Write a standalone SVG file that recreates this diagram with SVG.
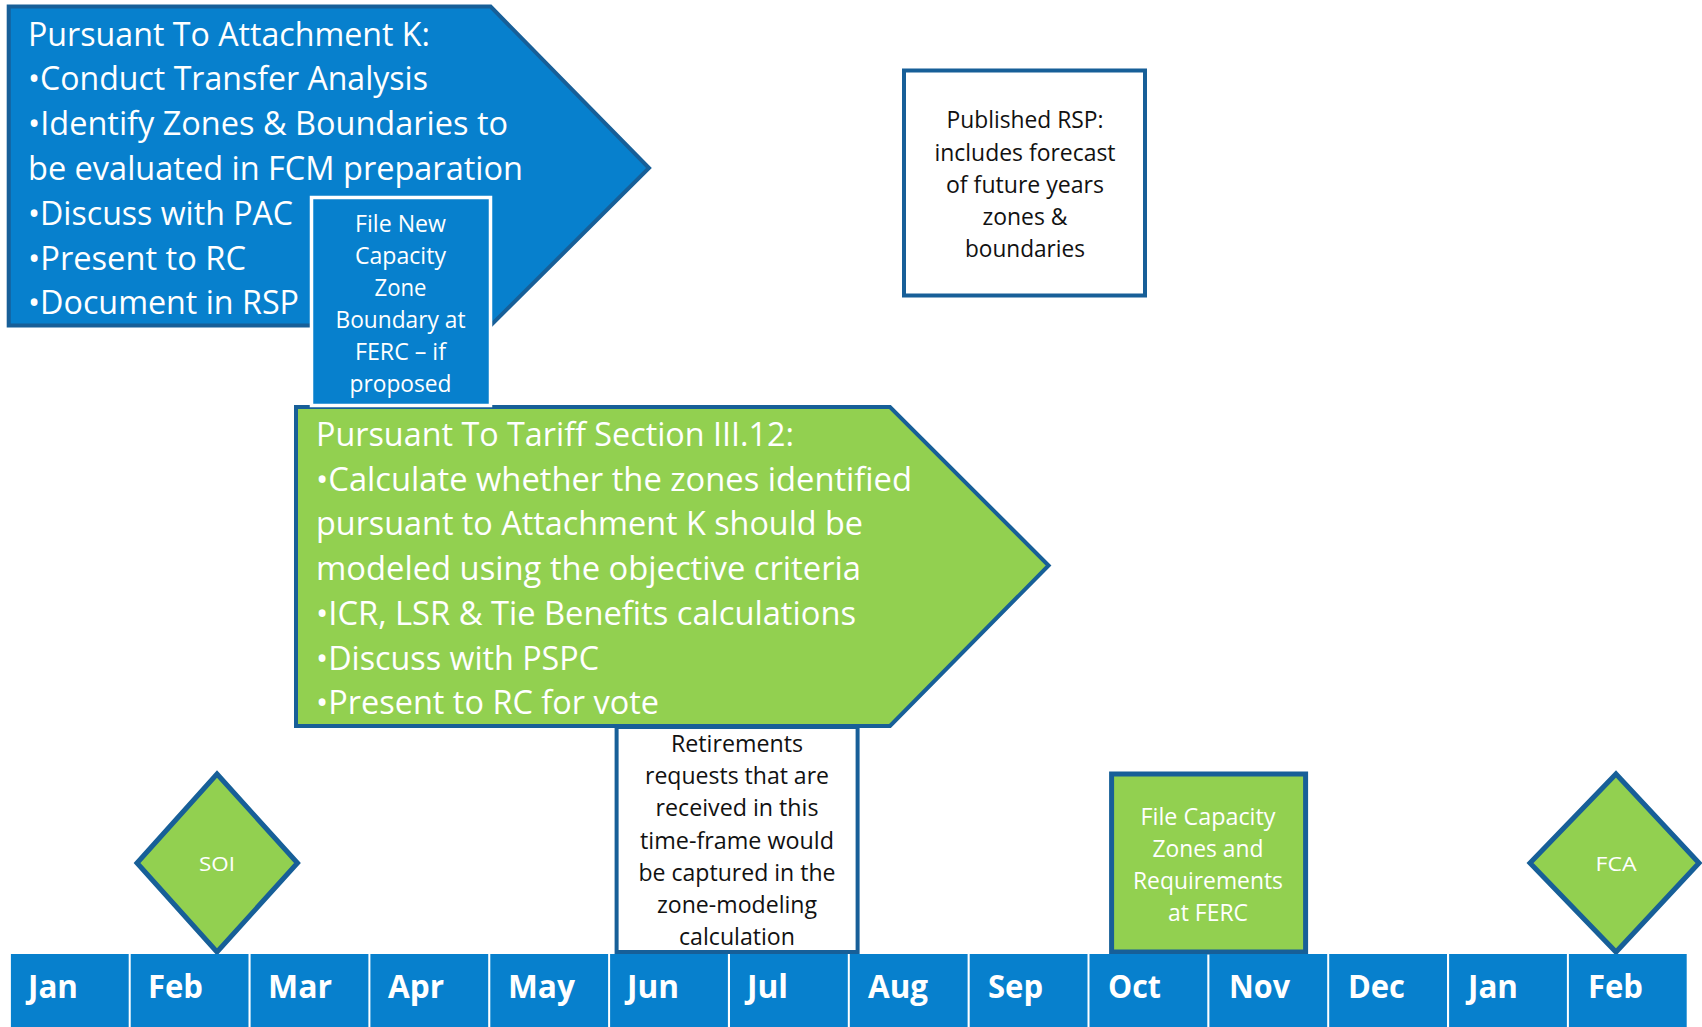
<svg xmlns="http://www.w3.org/2000/svg" width="1702" height="1027" viewBox="0 0 1702 1027">
<style>
.bg{fill:#ffffff}
.blue{fill:#0780CD;stroke:#175F98;stroke-width:4;stroke-linejoin:miter}
.green{fill:#92D050;stroke:#175F98;stroke-width:4;stroke-linejoin:miter}
.dia{fill:#92D050;stroke:#175F98;stroke-width:5;stroke-linejoin:miter}
.white{fill:#ffffff;stroke:#175F98;stroke-width:4}
.bluewb{fill:#0780CD;stroke:#ffffff;stroke-width:3.5}
.cell{fill:#0780CD}
.big{font-family:"Open Sans","Liberation Sans",sans-serif;font-size:33px;fill:#ffffff}
.mid{font-family:"Open Sans","Liberation Sans",sans-serif;font-size:23px;fill:#ffffff;text-anchor:middle}
.dark{font-family:"Open Sans","Liberation Sans",sans-serif;font-size:23px;fill:#111111;text-anchor:middle}
.sm{font-family:"Open Sans","Liberation Sans",sans-serif;font-size:20px;fill:#ffffff;text-anchor:middle}
.mon{font-family:"Open Sans","Liberation Sans",sans-serif;font-size:33px;font-weight:bold;fill:#ffffff}
</style>
<rect class="bg" x="0" y="0" width="1702" height="1027"/>

<g id="attachment-k">
<path class="blue" d="M8.7 6.5 H490.6 L649 168 L490.6 325.6 H8.7 Z"/>
<text class="big" x="28" y="45.5" textLength="402" lengthAdjust="spacingAndGlyphs">Pursuant To Attachment K:</text>
<text class="big" x="28" y="90.3" textLength="400" lengthAdjust="spacingAndGlyphs">•Conduct Transfer Analysis</text>
<text class="big" x="28" y="135.1" textLength="480" lengthAdjust="spacingAndGlyphs">•Identify Zones &amp; Boundaries to</text>
<text class="big" x="28" y="179.9" textLength="495" lengthAdjust="spacingAndGlyphs">be evaluated in FCM preparation</text>
<text class="big" x="28" y="224.7" textLength="265" lengthAdjust="spacingAndGlyphs">•Discuss with PAC</text>
<text class="big" x="28" y="269.5" textLength="218" lengthAdjust="spacingAndGlyphs">•Present to RC</text>
<text class="big" x="28" y="314.3" textLength="271" lengthAdjust="spacingAndGlyphs">•Document in RSP</text>
</g>

<g id="tariff-section">
<path class="green" d="M296 407 H890 L1048.6 565.5 L890 726 H296 Z"/>
<text class="big" x="316" y="446" textLength="478" lengthAdjust="spacingAndGlyphs">Pursuant To Tariff Section III.12:</text>
<text class="big" x="316" y="490.7" textLength="596" lengthAdjust="spacingAndGlyphs">•Calculate whether the zones identified</text>
<text class="big" x="316" y="535.4" textLength="547" lengthAdjust="spacingAndGlyphs">pursuant to Attachment K should be</text>
<text class="big" x="316" y="580.1" textLength="545" lengthAdjust="spacingAndGlyphs">modeled using the objective criteria</text>
<text class="big" x="316" y="624.8" textLength="540" lengthAdjust="spacingAndGlyphs">•ICR, LSR &amp; Tie Benefits calculations</text>
<text class="big" x="316" y="669.5" textLength="283" lengthAdjust="spacingAndGlyphs">•Discuss with PSPC</text>
<text class="big" x="316" y="714.2" textLength="343" lengthAdjust="spacingAndGlyphs">•Present to RC for vote</text>
</g>

<g id="file-new-zone">
<rect class="bluewb" x="311.5" y="197.5" width="179" height="208"/>
<text class="mid" x="400.5" y="232" textLength="91" lengthAdjust="spacingAndGlyphs">File New</text>
<text class="mid" x="400.5" y="264" textLength="91" lengthAdjust="spacingAndGlyphs">Capacity</text>
<text class="mid" x="400.5" y="296" textLength="52" lengthAdjust="spacingAndGlyphs">Zone</text>
<text class="mid" x="400.5" y="328" textLength="130" lengthAdjust="spacingAndGlyphs">Boundary at</text>
<text class="mid" x="400.5" y="360" textLength="91" lengthAdjust="spacingAndGlyphs">FERC – if</text>
<text class="mid" x="400.5" y="392" textLength="102" lengthAdjust="spacingAndGlyphs">proposed</text>
</g>

<g id="published-rsp">
<rect class="white" x="904" y="70.5" width="241" height="225"/>
<text class="dark" x="1025" y="128" textLength="157" lengthAdjust="spacingAndGlyphs">Published RSP:</text>
<text class="dark" x="1025" y="160.5" textLength="181" lengthAdjust="spacingAndGlyphs">includes forecast</text>
<text class="dark" x="1025" y="192.5" textLength="158" lengthAdjust="spacingAndGlyphs">of future years</text>
<text class="dark" x="1025" y="224.5" textLength="85" lengthAdjust="spacingAndGlyphs">zones &amp;</text>
<text class="dark" x="1025" y="256.5" textLength="120" lengthAdjust="spacingAndGlyphs">boundaries</text>
</g>

<g id="retirements">
<rect class="white" x="616.6" y="727" width="241" height="225"/>
<text class="dark" x="737" y="752" textLength="132" lengthAdjust="spacingAndGlyphs">Retirements</text>
<text class="dark" x="737" y="784" textLength="184" lengthAdjust="spacingAndGlyphs">requests that are</text>
<text class="dark" x="737" y="816" textLength="163" lengthAdjust="spacingAndGlyphs">received in this</text>
<text class="dark" x="737" y="848.5" textLength="194" lengthAdjust="spacingAndGlyphs">time-frame would</text>
<text class="dark" x="737" y="880.5" textLength="197" lengthAdjust="spacingAndGlyphs">be captured in the</text>
<text class="dark" x="737" y="912.5" textLength="160" lengthAdjust="spacingAndGlyphs">zone-modeling</text>
<text class="dark" x="737" y="944.5" textLength="116" lengthAdjust="spacingAndGlyphs">calculation</text>
</g>

<g id="soi">
<path class="dia" d="M217 774 L297.5 863 L217 952 L137 863 Z"/>
<text class="sm" x="217" y="871" textLength="36" lengthAdjust="spacingAndGlyphs">SOI</text>
</g>

<g id="fca">
<path class="dia" d="M1616 774 L1699 863 L1616 952 L1530 863 Z"/>
<text class="sm" x="1616" y="871" textLength="41" lengthAdjust="spacingAndGlyphs">FCA</text>
</g>

<g id="file-capacity-zones">
<rect class="dia" x="1111.6" y="774" width="194" height="178"/>
<text class="mid" x="1208" y="825" textLength="135" lengthAdjust="spacingAndGlyphs">File Capacity</text>
<text class="mid" x="1208" y="857" textLength="111" lengthAdjust="spacingAndGlyphs">Zones and</text>
<text class="mid" x="1208" y="889" textLength="150" lengthAdjust="spacingAndGlyphs">Requirements</text>
<text class="mid" x="1208" y="921" textLength="80" lengthAdjust="spacingAndGlyphs">at FERC</text>
</g>

<g id="timeline">
<rect class="cell" x="10.9" y="954" width="117.8" height="73"/>
<rect class="cell" x="130.7" y="954" width="117.8" height="73"/>
<rect class="cell" x="250.6" y="954" width="117.8" height="73"/>
<rect class="cell" x="370.4" y="954" width="117.8" height="73"/>
<rect class="cell" x="490.3" y="954" width="117.8" height="73"/>
<rect class="cell" x="610.1" y="954" width="117.8" height="73"/>
<rect class="cell" x="730.0" y="954" width="117.8" height="73"/>
<rect class="cell" x="849.8" y="954" width="117.8" height="73"/>
<rect class="cell" x="969.7" y="954" width="117.8" height="73"/>
<rect class="cell" x="1089.5" y="954" width="117.8" height="73"/>
<rect class="cell" x="1209.4" y="954" width="117.8" height="73"/>
<rect class="cell" x="1329.2" y="954" width="117.8" height="73"/>
<rect class="cell" x="1449.1" y="954" width="117.8" height="73"/>
<rect class="cell" x="1568.9" y="954" width="117.8" height="73"/>
<text class="mon" x="28" y="998" textLength="50" lengthAdjust="spacingAndGlyphs">Jan</text>
<text class="mon" x="148" y="998" textLength="55" lengthAdjust="spacingAndGlyphs">Feb</text>
<text class="mon" x="268" y="998" textLength="64" lengthAdjust="spacingAndGlyphs">Mar</text>
<text class="mon" x="388" y="998" textLength="56" lengthAdjust="spacingAndGlyphs">Apr</text>
<text class="mon" x="508" y="998" textLength="67" lengthAdjust="spacingAndGlyphs">May</text>
<text class="mon" x="627" y="998" textLength="52" lengthAdjust="spacingAndGlyphs">Jun</text>
<text class="mon" x="747" y="998" textLength="41" lengthAdjust="spacingAndGlyphs">Jul</text>
<text class="mon" x="868" y="998" textLength="60" lengthAdjust="spacingAndGlyphs">Aug</text>
<text class="mon" x="988" y="998" textLength="55" lengthAdjust="spacingAndGlyphs">Sep</text>
<text class="mon" x="1108" y="998" textLength="53" lengthAdjust="spacingAndGlyphs">Oct</text>
<text class="mon" x="1229" y="998" textLength="61" lengthAdjust="spacingAndGlyphs">Nov</text>
<text class="mon" x="1348" y="998" textLength="57" lengthAdjust="spacingAndGlyphs">Dec</text>
<text class="mon" x="1468" y="998" textLength="50" lengthAdjust="spacingAndGlyphs">Jan</text>
<text class="mon" x="1588" y="998" textLength="55" lengthAdjust="spacingAndGlyphs">Feb</text>
</g>

<g id="connectors"></g>
</svg>
